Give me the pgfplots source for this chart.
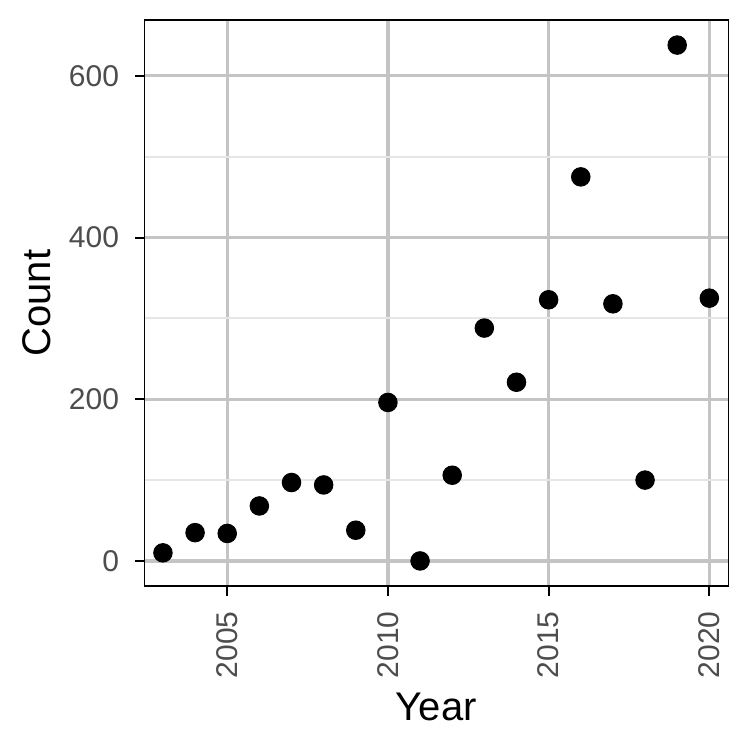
\documentclass[border=0pt]{standalone}
\usepackage{pgfplots}
\pgfplotsset{compat=1.18}
\usepackage{fontspec}
\setmainfont{Liberation Sans}

\definecolor{tickgray}{HTML}{4D4D4D}
\definecolor{majorgrid}{HTML}{C4C4C4}
\definecolor{minorgrid}{HTML}{E6E6E6}

\begin{document}
\begin{tikzpicture}
\begin{axis}[
    scale only axis,
    width=233.6pt, height=226.4pt,
    xmin=2002.42, xmax=2020.59,
    ymin=-31, ymax=669,
    xtick={2005,2010,2015,2020},
    ytick={0,200,400,600},
    minor ytick={100,300,500},
    xmajorgrids, ymajorgrids, yminorgrids,
    major grid style={majorgrid, line width=1.3pt},
    minor grid style={minorgrid, line width=0.7pt},
    axis line style={black, line width=0.6pt},
    tick align=outside,
    xtick pos=bottom, ytick pos=left,
    major tick length=3.8pt,
    minor tick length=0pt,
    tick style={black, line width=0.8pt},
    xticklabel shift=2.8pt, yticklabel shift=2.8pt,
    xticklabel style={rotate=90, anchor=east, font=\fontsize{12}{14}\selectfont, text=tickgray},
    yticklabel style={font=\fontsize{12}{14}\selectfont, text=tickgray},
    xlabel={Year}, ylabel={Count},
    xlabel style={font=\fontsize{16}{19}\selectfont, at={([yshift=-53.6pt]axis description cs:0.5,0)}, anchor=base},
    ylabel style={font=\fontsize{16}{19}\selectfont, at={([xshift=-37.7pt]axis description cs:0,0.5)}, anchor=base},
    /pgf/number format/1000 sep={},
    /pgf/number format/assume math mode=true,
]
% counts per year
\addplot[only marks, mark=*, mark size=3.7pt, mark options={fill=black, draw=none}]
    coordinates {
    (2003, 10) (2004, 35) (2005, 34) (2006, 68) (2007, 97) (2008, 94)
    (2009, 38) (2010, 196) (2011, 0) (2012, 106) (2013, 288) (2014, 221)
    (2015, 323) (2016, 475) (2017, 318) (2018, 100) (2019, 638) (2020, 325)
    };
\end{axis}
\pgfresetboundingbox
\path[use as bounding box] (-57.72pt,-65.6pt) rectangle (242.28pt,234.4pt);
\end{tikzpicture}
\end{document}
